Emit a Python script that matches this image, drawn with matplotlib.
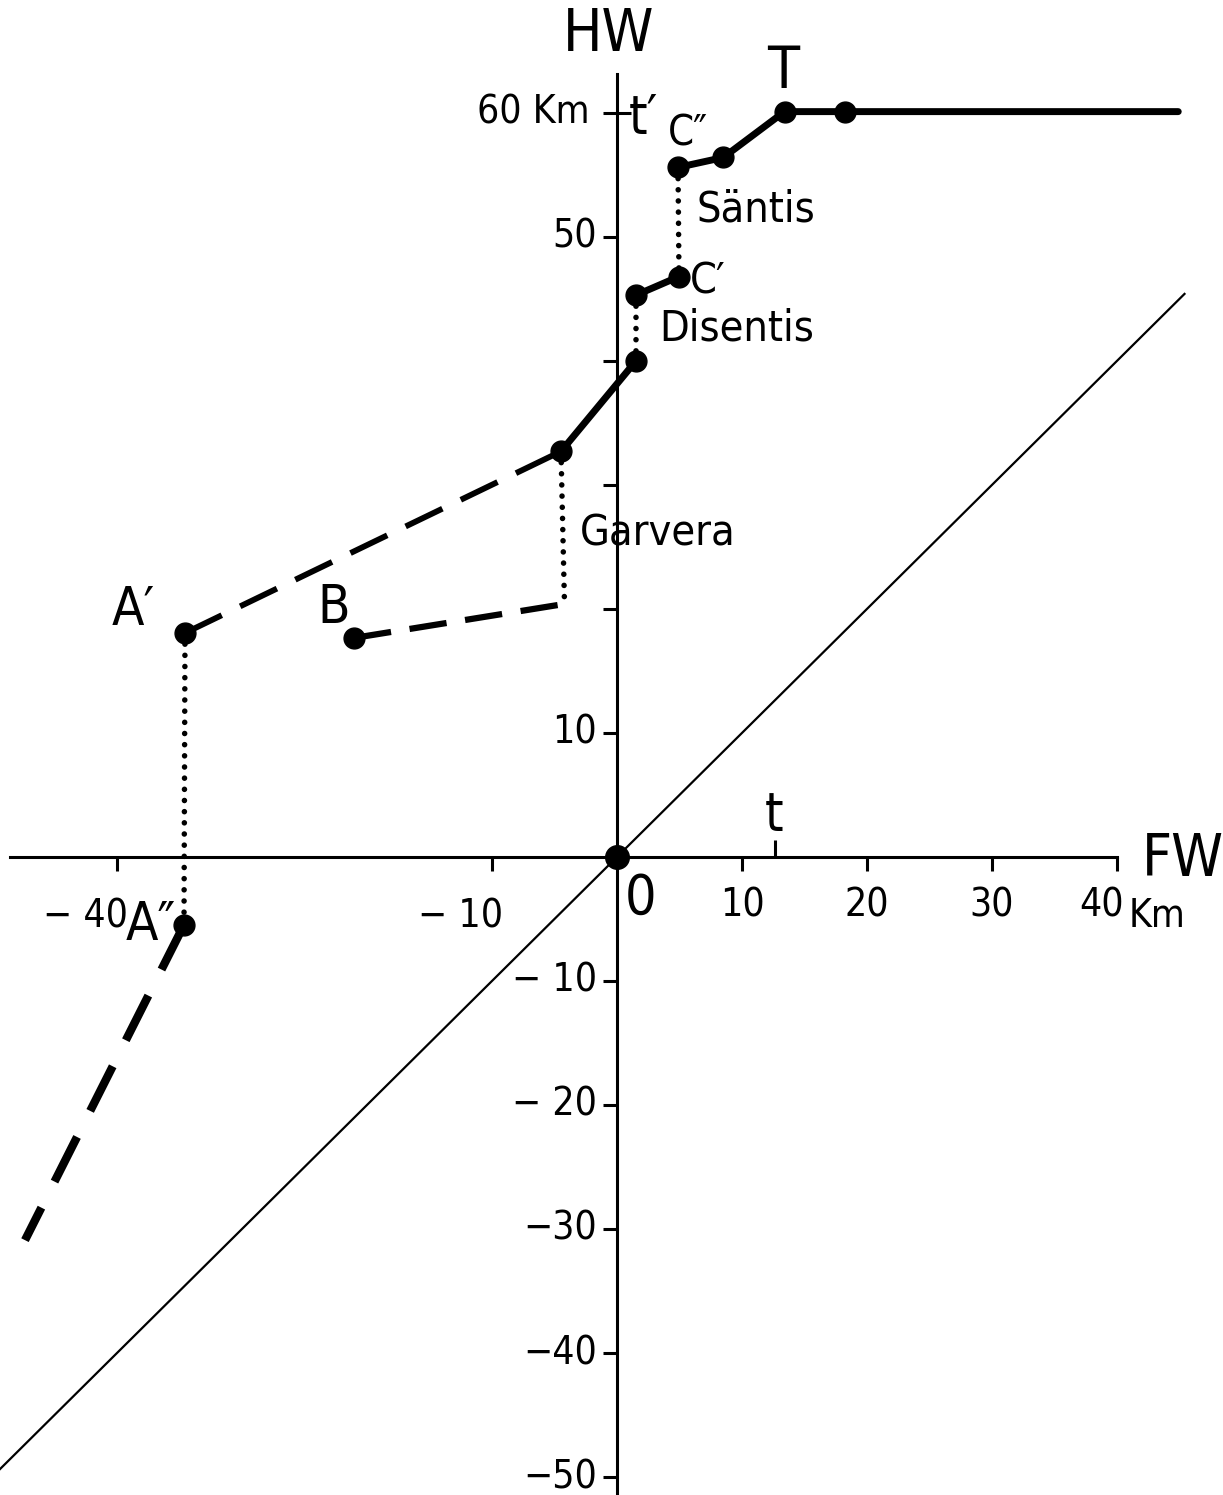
import matplotlib.pyplot as plt

plt.rcParams['font.family'] = ['DejaVu Sans']
plt.rcParams['font.stretch'] = 'condensed'

# profile points (FW km, HW km)
saentis_x = [4.88, 8.5, 13.4, 18.2]
saentis_y = [55.6, 56.4, 60.1, 60.1]
top_end_x = 44.9
disentis_x = [1.52, 4.96]
disentis_y = [45.3, 46.8]
garvera_x = [-4.48, 1.52]
garvera_y = [32.7, 40.0]
a1_x = [-34.56, -4.48]
a1_y = [18.06, 32.7]
b_x = [-21.04, -4.2]
b_y = [17.66, 20.4]
a2_x = [-34.64, -47.36]
a2_y = [-5.48, -30.9]

# dotted connections (x0, y0, x1, y1)
dotted = [
    (4.88, 55.6, 4.96, 46.8),
    (1.52, 45.3, 1.52, 40.0),
    (-4.48, 32.7, -4.2, 20.4),
    (-34.56, 18.06, -34.64, -5.48),
]

diag = [-49.4, 45.4]

xticks = [-40, -10, 10, 20, 30, 40]
xlabels = ['\u2212 40', '\u2212 10', '10', '20', '30', '40']
yticks = [50, 40, 30, 20, 10, -10, -20, -30, -40, -50]
ylabels = ['50', '', '', '', '10', '\u2212 10', '\u2212 20', '\u221230', '\u221240', '\u221250']
t_pos = 12.6

fig = plt.figure(figsize=(12.23, 14.95), dpi=100)
ax = fig.add_axes([0, 0, 1, 1])
ax.set_xlim(-49.36, 48.48)
ax.set_ylim(-51.45, 69.1)

for s in ['top', 'right']:
    ax.spines[s].set_visible(False)
ax.spines['left'].set_position(('data', 0))
ax.spines['bottom'].set_position(('data', 0))
ax.spines['left'].set_bounds(-51.45, 63.1)
ax.spines['bottom'].set_bounds(-48.6, 40)
ax.spines['left'].set_linewidth(2.2)
ax.spines['bottom'].set_linewidth(2.2)

ax.set_xticks(xticks)
ax.set_yticks(yticks)
ax.set_xticks([t_pos], minor=True)
ax.set_yticks([60], minor=True)
ax.tick_params(which='major', direction='out', length=10, width=2.2,
               labelbottom=False, labelleft=False)
ax.tick_params(axis='x', which='minor', direction='in', length=12, width=2.2,
               labelbottom=False)
ax.tick_params(axis='y', which='minor', direction='inout', length=20, width=2.2,
               labelleft=False)

# tick labels
for v, lab in zip(xticks, xlabels):
    if v < 0:
        ax.text(v + 0.9, -4.8, lab, ha='right', va='center', fontsize=28)
    elif v == 40:
        ax.text(v - 1.2, -3.9, lab, ha='center', va='center', fontsize=28)
    else:
        ax.text(v, -3.9, lab, ha='center', va='center', fontsize=28)
for v, lab in zip(yticks, ylabels):
    ax.text(-1.6, v, lab, ha='right', va='center', fontsize=28)
ax.text(-2.2, 60, '60 Km', ha='right', va='center', fontsize=28)

# diagonal
ax.plot(diag, diag, color='black', lw=1.6)

# profile lines
ax.plot(saentis_x + [top_end_x], saentis_y + [saentis_y[-1]], color='black', lw=5,
        solid_capstyle='round')
ax.plot(saentis_x, saentis_y, 'o', color='black', ms=15)
ax.plot(disentis_x, disentis_y, '-o', color='black', lw=5, ms=15)
ax.plot(garvera_x, garvera_y, '-o', color='black', lw=5, ms=15)
ax.plot(a1_x, a1_y, color='black', lw=4.2, linestyle=(0, (7, 3.5)))
ax.plot(a1_x[0], a1_y[0], 'o', color='black', ms=15)
ax.plot(b_x, b_y, color='black', lw=4.5, linestyle=(0, (6, 3)))
ax.plot(b_x[0], b_y[0], 'o', color='black', ms=15)
ax.plot(a2_x, a2_y, color='black', lw=6, linestyle=(0, (6, 3.5)))
ax.plot(a2_x[0], a2_y[0], 'o', color='black', ms=15)
for x0, y0, x1, y1 in dotted:
    ax.plot([x0, x1], [y0, y1], color='black', lw=4, linestyle=(0, (0.01, 2)),
            dash_capstyle='round')
ax.plot(0, 0, 'o', color='black', ms=17)

# labels
ax.text(-0.7, 66.3, 'HW', ha='center', va='center', fontsize=42)
ax.text(45.3, -0.2, 'FW', ha='center', va='center', fontsize=42)
ax.text(43.2, -4.8, 'Km', ha='center', va='center', fontsize=28)
ax.text(2.1, 59.6, 't\u2032', ha='center', va='center', fontsize=38)
ax.text(5.7, 58.3, 'C\u2033', ha='center', va='center', fontsize=30)
ax.text(13.3, 63.3, 'T', ha='center', va='center', fontsize=42)
ax.text(11.1, 52.2, 'S\u00e4ntis', ha='center', va='center', fontsize=31)
ax.text(7.3, 46.4, 'C\u2032', ha='center', va='center', fontsize=31)
ax.text(9.6, 42.6, 'Disentis', ha='center', va='center', fontsize=31)
ax.text(-3.0, 26.1, 'Garvera', ha='left', va='center', fontsize=31)
ax.text(-38.7, 19.9, 'A\u2032', ha='center', va='center', fontsize=38)
ax.text(-22.7, 20.1, 'B', ha='center', va='center', fontsize=38)
ax.text(-37.3, -5.5, 'A\u2033', ha='center', va='center', fontsize=38)
ax.text(t_pos, 3.4, 't', ha='center', va='center', fontsize=38)
ax.text(1.9, -3.4, '0', ha='center', va='center', fontsize=40)

fig.savefig('out.png', dpi=100, facecolor='white')
